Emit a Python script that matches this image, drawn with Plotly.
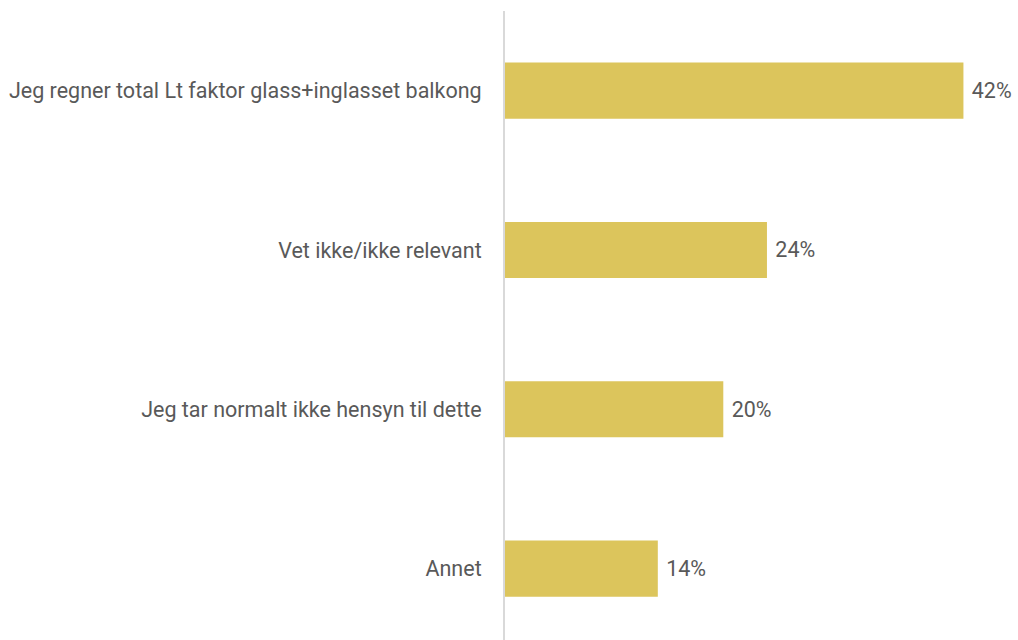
import plotly.graph_objects as go

categories = [
    "Jeg regner total Lt faktor glass+inglasset balkong",
    "Vet ikke/ikke relevant",
    "Jeg tar normalt ikke hensyn til dette",
    "Annet",
]
values = [42, 24, 20, 14]
labels = [f"{v}%" for v in values]

BAR_COLOR = "#DCC55C"
TEXT_COLOR = "#595959"
FONT = "Roboto, Arial, sans-serif"
SIZE = 21.5

fig = go.Figure(
    go.Bar(
        x=values,
        y=categories,
        orientation="h",
        marker=dict(color=BAR_COLOR, line=dict(width=0)),
        width=0.352,
        text=[" " + t for t in labels],
        textposition="outside",
        textfont=dict(family=FONT, size=SIZE, color=TEXT_COLOR),
        cliponaxis=False,
        hoverinfo="skip",
    )
)

fig.update_layout(
    width=1018,
    height=640,
    margin=dict(l=505, r=0, t=11, b=0),
    paper_bgcolor="white",
    plot_bgcolor="white",
    showlegend=False,
    font=dict(family=FONT, size=SIZE, color=TEXT_COLOR),
)

fig.update_xaxes(
    range=[0, 47],
    visible=False,
    showgrid=False,
    zeroline=False,
)

fig.update_yaxes(
    range=[3.448, -0.5],
    showline=True,
    linecolor="#D9D9D9",
    linewidth=2,
    showgrid=False,
    zeroline=False,
    ticks="",
    ticklabelstandoff=17,
    tickfont=dict(family=FONT, size=SIZE, color=TEXT_COLOR),
)

fig.write_html("out.html")
